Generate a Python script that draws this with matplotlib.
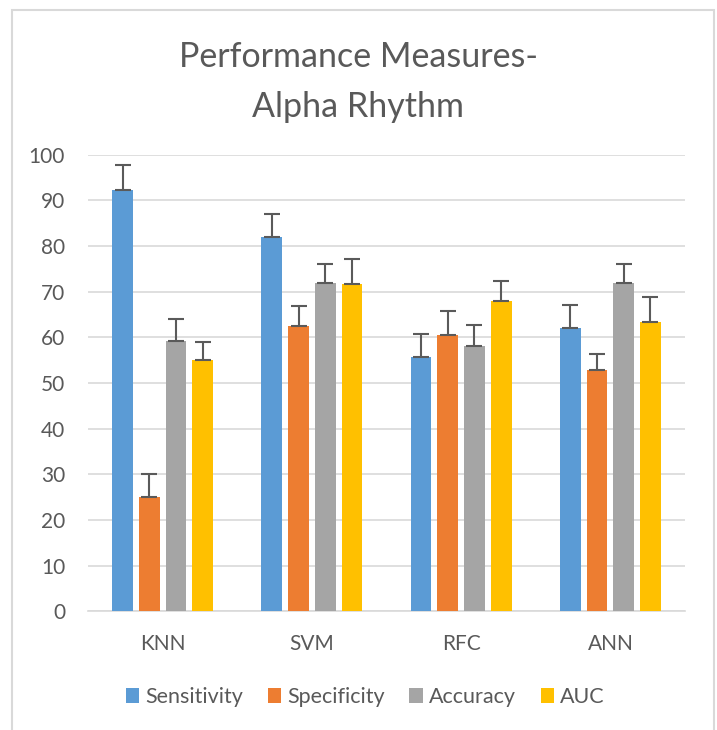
import matplotlib
matplotlib.use("Agg")
import matplotlib.pyplot as plt
from matplotlib.patches import Rectangle, Patch
import numpy as np

categories = ["KNN", "SVM", "RFC", "ANN"]
series_names = ["Sensitivity", "Specificity", "Accuracy", "AUC"]
sensitivity = [92.3, 82.0, 55.6, 62.0]
specificity = [25.0, 62.4, 60.6, 52.8]
accuracy = [59.1, 71.9, 58.1, 72.0]
auc = [55.0, 71.7, 68.0, 63.4]
sensitivity_err = [5.4, 5.0, 5.2, 5.1]
specificity_err = [5.0, 4.5, 5.2, 3.6]
accuracy_err = [4.9, 4.2, 4.5, 4.0]
auc_err = [3.9, 5.4, 4.3, 5.5]
yticks = [0, 10, 20, 30, 40, 50, 60, 70, 80, 90, 100]

colors = ["#5B9BD5", "#ED7D31", "#A5A5A5", "#FFC000"]
values = [sensitivity, specificity, accuracy, auc]
errors = [sensitivity_err, specificity_err, accuracy_err, auc_err]

plt.rcParams['font.family'] = ['Lato', 'DejaVu Sans']
textc = "#595959"

W, H = 717, 730
fig = plt.figure(figsize=(W/100, H/100), dpi=100)
ax = fig.add_axes([88/W, 1-611.3/H, (685-88)/W, (611.3-154.7)/H])

x = np.arange(len(categories))
pitch = 0.179
bw = 0.139
for i, (vals, errs, c, name) in enumerate(zip(values, errors, colors, series_names)):
    pos = x + (i-1.5)*pitch
    ax.bar(pos, vals, width=bw, color=c, zorder=3, label=name)
    ax.errorbar(pos, vals, yerr=[np.zeros(len(vals)), errs], fmt='none',
                ecolor="#5a5a5a", elinewidth=1.5, capsize=6, capthick=1.5, zorder=4)

ax.set_xlim(-0.5, 3.5)
ax.set_ylim(0, 100)
ax.set_yticks(yticks)
ax.set_yticklabels([str(t) for t in yticks], fontsize=15, color=textc)
ax.set_xticks(x)
ax.set_xticklabels(categories, fontsize=15, color=textc)
ax.tick_params(axis='both', length=0)
ax.tick_params(axis='y', pad=16.5)
ax.tick_params(axis='x', pad=16.5)
ax.yaxis.grid(True, color="#d9d9d9", linewidth=1.2, zorder=0)
for s in ["top", "right", "left"]:
    ax.spines[s].set_visible(False)
ax.spines["bottom"].set_color("#d9d9d9")
ax.spines["bottom"].set_linewidth(1.2)

fig.text(0.5, 1-67/H, "Performance Measures-", ha='center', va='baseline',
         fontsize=24.5, color=textc)
fig.text(0.5, 1-117/H, "Alpha Rhythm", ha='center', va='baseline',
         fontsize=24.5, color=textc)

handles = [Patch(facecolor=c, edgecolor='none') for c in colors]
fig.legend(handles, series_names, loc='center', bbox_to_anchor=(365/W, 1-697/H),
           ncol=4, frameon=False, fontsize=15.5, handlelength=0.64, handleheight=0.64,
           handletextpad=0.25, columnspacing=1.16, labelcolor=textc,
           borderaxespad=0, borderpad=0)

fig.patches.append(Rectangle((12/W, -0.05), (714-12)/W, 1.05-10/H, transform=fig.transFigure,
                             fill=False, edgecolor="#d9d9d9", linewidth=1.5))

fig.savefig("out.png", dpi=100, facecolor="white")
